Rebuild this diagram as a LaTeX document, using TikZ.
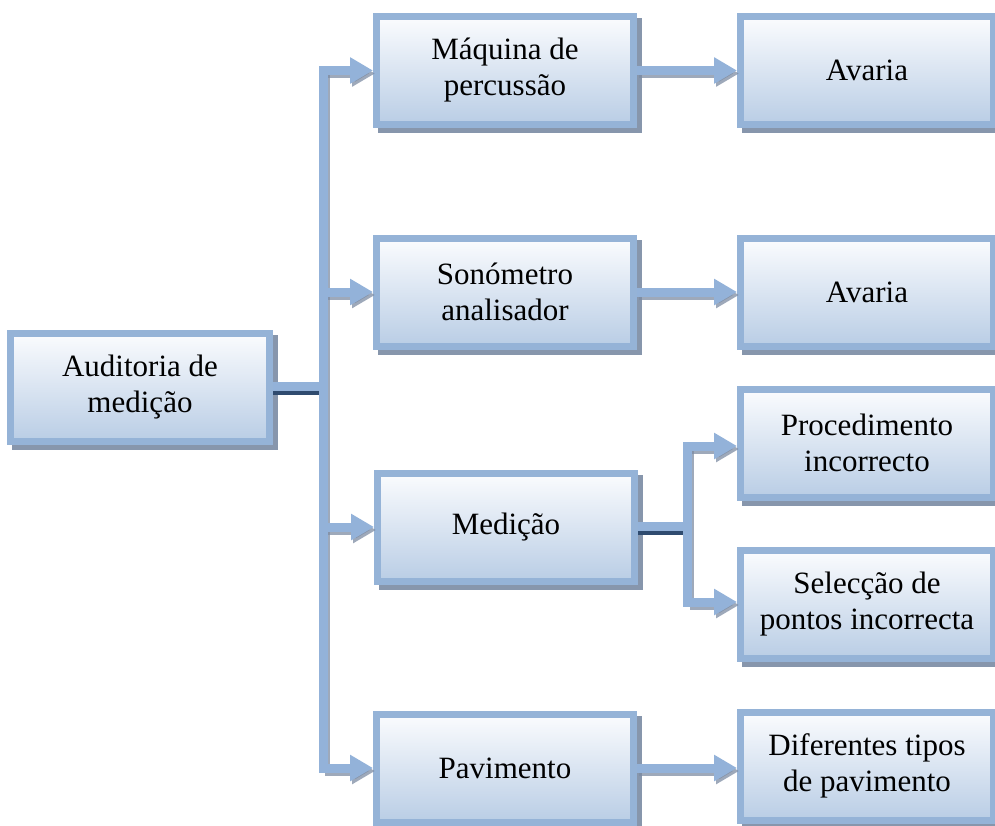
\documentclass[tikz,border=0pt]{standalone}
\usepackage{fontspec}
\setmainfont{Liberation Serif}
\usetikzlibrary{arrows.meta,shadows}

\definecolor{boxline}{HTML}{95B3D7}
\definecolor{boxtop}{HTML}{FBFCFE}
\definecolor{boxbot}{HTML}{B9CDE5}
\definecolor{boxshadow}{HTML}{8796AC}
\definecolor{lnk}{HTML}{93B2D9}
\definecolor{lnkshadow}{HTML}{7D8CA3}
\definecolor{darklnk}{HTML}{2F4B6F}

\begin{document}
\begin{tikzpicture}[x=1pt,y=-1pt,
  box/.style={draw=boxline, line width=7pt, top color=boxtop, bottom color=boxbot,
    minimum width=257pt, minimum height=108pt, inner sep=0pt, align=center,
    text=black, font=\fontsize{31}{36}\selectfont,
    drop shadow={shadow xshift=5pt, shadow yshift=-5pt, fill=boxshadow,
      draw=boxshadow, line width=7pt, opacity=1}},
  rootbox/.style={box, minimum width=259pt},
  leafbox/.style={box, minimum width=253pt},
  link/.style={draw=lnk, line width=9pt},
  linkshade/.style={draw=lnkshadow, line width=9pt, opacity=0.75,
    transform canvas={xshift=2pt, yshift=-3pt}},
  darkshade/.style={draw=darklnk, line width=8pt,
    transform canvas={yshift=-4.5pt}},
  tip/.style={-{Triangle[length=23pt,width=25pt]}},
]
\useasboundingbox (0,0) rectangle (995,825);

% boxes
\node[rootbox] (aud) at (140,387) {Auditoria de\\medição};

\node[box] (maq) at (505,70.5) {Máquina de\\percussão};
\node[box] (son) at (505,292) {Sonómetro\\analisador};
\node[box] (med) at (506,527) {Medição};
\node[box] (pav) at (505,768) {Pavimento};

\node[leafbox] (av1) at (867,70.5) {Avaria};
\node[leafbox] (av2) at (867,292) {Avaria};
\node[leafbox] (proc) at (867,443) {Procedimento\\incorrecto};
\node[leafbox] (sel) at (867,604) {Selecção de\\pontos incorrecta};
\node[leafbox] (dif) at (867,766) {Diferentes tipos\\de pavimento};

% junction points of the connectors
\coordinate (ta) at (323,386);
\coordinate (tt) at (323,70.5);
\coordinate (ts) at (323,292);
\coordinate (tm) at (323,527);
\coordinate (tb) at (323,768);
\coordinate (mj) at (687.5,526);
\coordinate (mt) at (687.5,446);
\coordinate (mb) at (687.5,602);

% shadows of the connectors
\draw[darkshade] (aud.east |- ta) -- (ta);
\draw[darkshade] (med.east |- mj) -- (mj);
\draw[linkshade] (tt) -- (tb);
\draw[linkshade] (mt) -- (mb);
\foreach \a/\b in {tt/maq, ts/son, tm/med, tb/pav, mt/proc, mb/sel}
  \draw[linkshade, tip] (\a) -- (\a -| \b.west);
\foreach \a/\b in {maq/av1, son/av2, pav/dif}
  \draw[linkshade, tip] (\a.east) -- (\a.east -| \b.west);

% connectors
\draw[link] (aud.east |- ta) -- (ta);
\draw[link] (med.east |- mj) -- (mj);
\draw[link, line cap=rect] (tt) -- (tb);
\draw[link, line cap=rect] (mt) -- (mb);
\foreach \a/\b in {tt/maq, ts/son, tm/med, tb/pav, mt/proc, mb/sel}
  \draw[link, tip] (\a) -- (\a -| \b.west);
\foreach \a/\b in {maq/av1, son/av2, pav/dif}
  \draw[link, tip] (\a.east) -- (\a.east -| \b.west);
\end{tikzpicture}
\end{document}
